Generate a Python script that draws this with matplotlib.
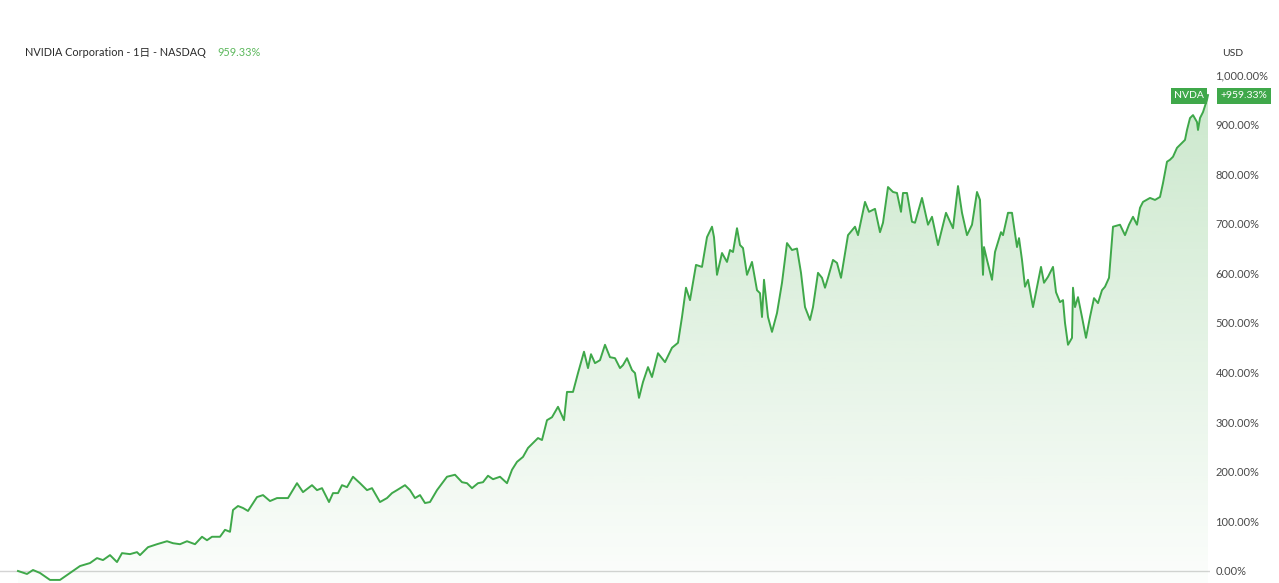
import numpy as np
import matplotlib
matplotlib.use('Agg')
import matplotlib.pyplot as plt
from matplotlib.colors import to_rgb

# day offset from start of the window, cumulative return in %
days = [
    0, 9, 15, 22, 32, 42, 52, 62, 72, 79,
    85, 92, 99, 104, 112, 119, 122, 130, 139, 149,
    155, 162, 169, 177, 184, 189, 194, 202, 207, 212,
    215, 220, 225, 230, 239, 245, 252, 259, 270, 279,
    285, 294, 299, 304, 311, 315, 320, 324, 329, 335,
    342, 349, 354, 362, 369, 374, 379, 387, 392, 397,
    402, 407, 412, 419, 429, 437, 444, 449, 454, 460,
    465, 470, 475, 482, 489, 494, 499, 505, 510, 515,
    520, 524, 529, 534, 540, 546, 549, 555, 560, 566,
    570, 573, 577, 582, 587, 592, 597, 602, 605, 609,
    614, 617, 621, 625, 630, 634, 640, 647, 654, 660,
    664, 668, 672, 678, 684, 689, 694, 696, 699, 704,
    709, 712, 715, 719, 722, 725, 729, 734, 739, 742,
    744, 746, 750, 754, 759, 764, 769, 774, 779, 783,
    787, 792, 795, 800, 804, 807, 810, 815, 819, 823,
    830, 837, 840, 847, 851, 857, 862, 865, 870, 875,
    879, 883, 885, 889, 894, 897, 904, 910, 914, 920,
    928, 935, 940, 944, 949, 954, 959, 962, 965, 966,
    969, 974, 977, 983, 985, 990, 994, 999, 1001, 1004,
    1007, 1010, 1015, 1019, 1023, 1026, 1030, 1035, 1038, 1042,
    1045, 1047, 1050, 1054, 1055, 1057, 1060, 1064, 1068, 1072,
    1076, 1080, 1084, 1087, 1091, 1095, 1102, 1107, 1111, 1115,
    1119, 1122, 1125, 1132, 1137, 1142, 1145, 1149, 1152, 1155,
    1159, 1164, 1167, 1169, 1172, 1175, 1179, 1180, 1182, 1185,
    1189, 1190,
]
pct = [
    0, -6, 2, -4, -18, -18, -4, 10, 16, 26,
    22, 32, 18, 36, 34, 38, 32, 48, 54, 60,
    56, 54, 60, 54, 69, 62, 69, 69, 83, 79,
    123, 131, 127, 121, 149, 153, 141, 147, 147, 177,
    159, 173, 163, 167, 139, 157, 157, 173, 169, 190,
    177, 163, 167, 139, 147, 157, 163, 173, 163, 147,
    153, 137, 139, 163, 190, 194, 179, 177, 167, 177,
    179, 192, 185, 190, 177, 204, 220, 230, 248, 258,
    268, 264, 304, 310, 331, 304, 361, 361, 399, 442,
    409, 437, 419, 425, 456, 431, 429, 409, 415, 429,
    405, 399, 349, 381, 411, 391, 439, 421, 450, 460,
    512, 571, 546, 617, 613, 673, 694, 673, 597, 641,
    623, 647, 643, 691, 657, 651, 597, 623, 566, 560,
    512, 587, 512, 482, 520, 581, 661, 647, 650, 601,
    532, 506, 532, 601, 591, 571, 591, 627, 621, 591,
    677, 694, 677, 744, 724, 730, 683, 702, 774, 764,
    762, 724, 762, 762, 704, 702, 752, 698, 714, 657,
    722, 691, 776, 722, 677, 698, 764, 748, 597, 653,
    627, 587, 643, 683, 677, 722, 722, 653, 671, 627,
    573, 587, 532, 573, 613, 581, 593, 613, 562, 542,
    546, 500, 456, 470, 571, 532, 552, 512, 470, 512,
    550, 540, 566, 573, 591, 694, 698, 677, 698, 714,
    698, 732, 744, 752, 748, 754, 782, 825, 829, 835,
    853, 863, 869, 889, 913, 919, 905, 889, 913, 925,
    950, 959.33,
]
yticks = [0, 100, 200, 300, 400, 500, 600, 700, 800, 900, 1000]
ytick_labels = ['0.00%', '100.00%', '200.00%', '300.00%', '400.00%', '500.00%',
                '600.00%', '700.00%', '800.00%', '900.00%', '1,000.00%']
symbol = 'NVDA'
title = 'NVIDIA Corporation - 1日 - NASDAQ'
last_label = '959.33%'

GREEN = '#3fa84a'
W, H = 1279, 583
LATIN = ['Lato', 'Noto Sans CJK JP', 'DejaVu Sans']

plt.rcParams['font.family'] = LATIN

fig = plt.figure(figsize=(W / 100, H / 100), dpi=100)
ax = fig.add_axes([0, 0, 1210 / W, 1])

x = np.array(days, dtype=float)
y = np.array(pct, dtype=float)
ymin, ymax = -24.2, 1151
ax.set_xlim(-18, 1192)
ax.set_ylim(ymin, ymax)

# gradient fill under the line
poly = ax.fill_between(x, y, ymin, color='none', lw=0)
r, g, b = to_rgb('#4caf50')
rgba = np.zeros((256, 1, 4))
rgba[..., 0], rgba[..., 1], rgba[..., 2] = r, g, b
rgba[:, 0, 3] = np.linspace(0.02, 0.30, 256)
im = ax.imshow(rgba, aspect='auto', origin='lower',
               extent=[x[0], x[-1], ymin, 1000], zorder=1)
im.set_clip_path(poly.get_paths()[0], transform=ax.transData)

ax.axhline(0, color='#d4d4d4', lw=1, zorder=0)
ax.plot(x, y, color=GREEN, lw=1.4, zorder=3, solid_joinstyle='round')

for s in ax.spines.values():
    s.set_visible(False)
ax.set_xticks([])
ax.yaxis.tick_right()
ax.set_yticks(yticks)
ax.set_yticklabels(ytick_labels)
ax.tick_params(axis='y', length=0, pad=4, labelsize=8, labelcolor='#4a4a4a')

# header text
fig.text(25 / W, 1 - 53 / H, title, fontsize=7.8, color='#2a2a2a',
         va='center', ha='left')
fig.text(217 / W, 1 - 53 / H, last_label, fontsize=7.8, color='#5cb85c',
         va='center', ha='left')
fig.text(1222 / W, 1 - 53 / H, 'USD', fontsize=7.5, color='#333333',
         va='center', ha='left')

# last value badges
yl = 1 - 96 / H
fig.text(1189 / W, yl, symbol, fontsize=7.5, color='white', va='center',
         ha='center', bbox=dict(boxstyle='square,pad=0.3', fc=GREEN, ec='none'))
fig.text(1244 / W, yl, '+' + last_label, fontsize=7.5, color='white',
         va='center', ha='center',
         bbox=dict(boxstyle='square,pad=0.3', fc=GREEN, ec='none'))

fig.savefig('out.png', dpi=100, facecolor='white')
